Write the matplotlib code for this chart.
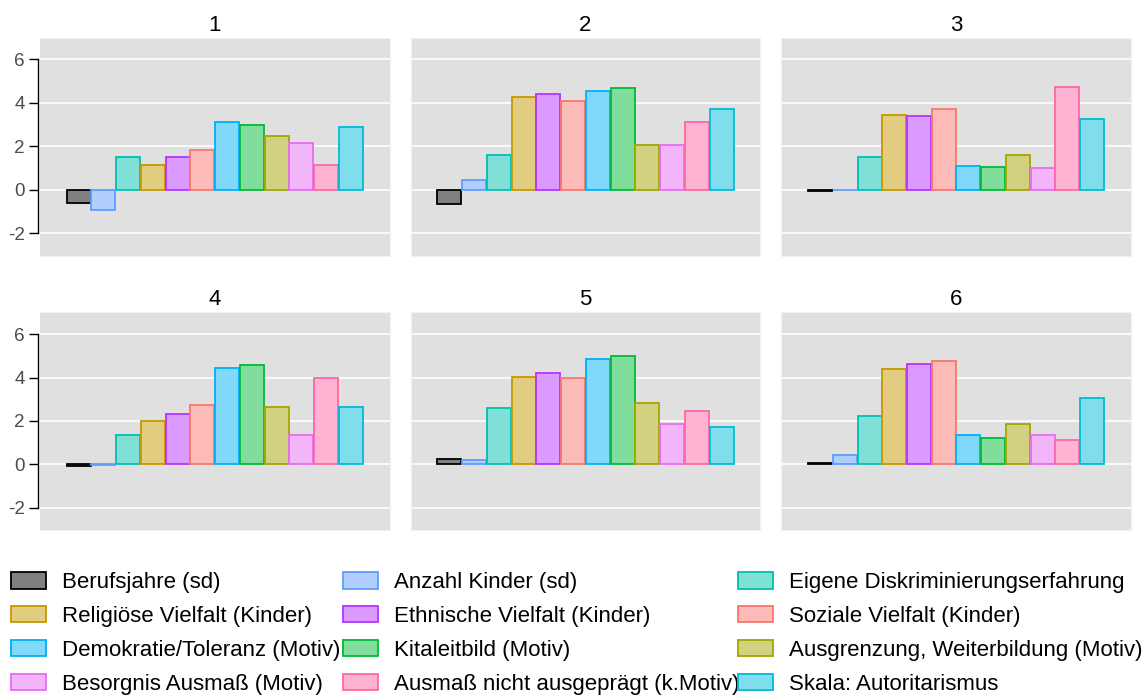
import matplotlib
matplotlib.use("Agg")
import matplotlib.pyplot as plt
from matplotlib.patches import Patch
from matplotlib.colors import to_rgb

plt.rcParams["font.family"] = ["Liberation Sans", "DejaVu Sans"]
plt.rcParams["axes.unicode_minus"] = False

# categories in bar / legend order
variables = [
    "Berufsjahre (sd)",
    "Anzahl Kinder (sd)",
    "Eigene Diskriminierungserfahrung",
    "Religiöse Vielfalt (Kinder)",
    "Ethnische Vielfalt (Kinder)",
    "Soziale Vielfalt (Kinder)",
    "Demokratie/Toleranz (Motiv)",
    "Kitaleitbild (Motiv)",
    "Ausgrenzung, Weiterbildung (Motiv)",
    "Besorgnis Ausmaß (Motiv)",
    "Ausmaß nicht ausgeprägt (k.Motiv)",
    "Skala: Autoritarismus",
]
edge_colors = [
    "#000000", "#619CFF", "#00C0AF", "#C59900", "#B535FF", "#F8766D",
    "#00B0F6", "#00BA38", "#A3A500", "#E76BF3", "#FF67A4", "#00BBD7",
]

panels = ["1", "2", "3", "4", "5", "6"]
panel_1 = [-0.62, -0.92, 1.49, 1.15, 1.49, 1.83, 3.14, 2.98, 2.48, 2.15, 1.15, 2.90]
panel_2 = [-0.66, 0.44, 1.61, 4.25, 4.40, 4.11, 4.54, 4.69, 2.06, 2.06, 3.14, 3.74]
panel_3 = [-0.06, -0.02, 1.52, 3.45, 3.39, 3.71, 1.10, 1.07, 1.61, 1.01, 4.71, 3.27]
panel_4 = [-0.06, -0.03, 1.34, 1.99, 2.31, 2.73, 4.46, 4.58, 2.64, 1.37, 3.98, 2.62]
panel_5 = [0.23, 0.19, 2.61, 4.04, 4.23, 3.97, 4.86, 5.00, 2.81, 1.88, 2.48, 1.71]
panel_6 = [0.08, 0.42, 2.25, 4.40, 4.63, 4.77, 1.36, 1.23, 1.85, 1.36, 1.11, 3.06]
values = [panel_1, panel_2, panel_3, panel_4, panel_5, panel_6]

y_ticks = [-2, 0, 2, 4, 6]


def lighten(c, amount=0.5):
    r, g, b = to_rgb(c)
    return (r + (1 - r) * amount, g + (1 - g) * amount, b + (1 - b) * amount)


fill_colors = [lighten(c) for c in edge_colors]

W, H = 1148, 697
fig = plt.figure(figsize=(W / 100, H / 100), dpi=100)

col_left = [40, 410.7, 781.3]
row_top = [37.7, 312.3]
pw, ph = 349.5, 218

x = list(range(len(variables)))
for k, (name, vals) in enumerate(zip(panels, values)):
    r, c = divmod(k, 3)
    ax = fig.add_axes([col_left[c] / W, 1 - (row_top[r] + ph) / H, pw / W, ph / H])
    ax.set_facecolor("#E0E0E0")
    ax.set_axisbelow(True)
    ax.grid(axis="y", color="white", linewidth=1.2)
    ax.bar(x, vals, width=0.97, color=fill_colors, edgecolor=edge_colors,
           linewidth=1.3)
    ax.set_xlim(-1.565, 12.56)
    ax.set_ylim(-3.03, 7.0)
    ax.set_yticks(y_ticks)
    ax.set_xticks([])
    ax.set_title(name, fontsize=16, pad=5)
    for s in ["top", "right", "bottom"]:
        ax.spines[s].set_color("#F2F2F2")
        ax.spines[s].set_linewidth(0.8)
    if c == 0:
        ax.spines["left"].set_position(("outward", 1.5))
        ax.spines["left"].set_bounds(-2, 6)
        ax.spines["left"].set_color("black")
        ax.spines["left"].set_linewidth(1.0)
        ax.tick_params(axis="y", length=6.5, width=1.0, pad=3,
                       labelsize=13.6, labelcolor="#4D4D4D")
    else:
        ax.spines["left"].set_color("#F2F2F2")
        ax.spines["left"].set_linewidth(0.8)
        ax.tick_params(axis="y", length=0, labelleft=False)

# legend: three columns, filled row-wise
leg_x = [11, 343, 738]
for c in range(3):
    idx = [c + 3 * r for r in range(4)]
    handles = [Patch(facecolor=fill_colors[i], edgecolor=edge_colors[i],
                     linewidth=1.3) for i in idx]
    labels = [variables[i] for i in idx]
    fig.legend(handles, labels, loc="upper left",
               bbox_to_anchor=(leg_x[c] / W, 1 - 572 / H),
               frameon=False, fontsize=16, borderpad=0, borderaxespad=0,
               handlelength=1.58, handleheight=0.77, handletextpad=0.72,
               labelspacing=0.58)

fig.savefig("out.png", dpi=100)
